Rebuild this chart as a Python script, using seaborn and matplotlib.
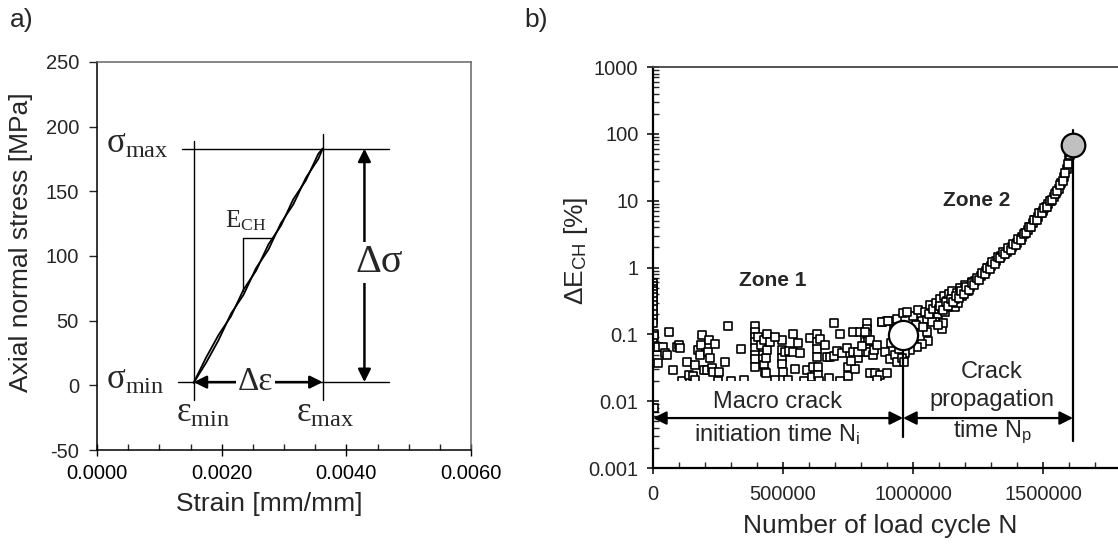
import numpy as np
import pandas as pd
import matplotlib
matplotlib.use("Agg")
import matplotlib.pyplot as plt
import seaborn as sns
from matplotlib.ticker import MultipleLocator, LogLocator, NullFormatter
from matplotlib.patches import Rectangle

# ---------------- data: panel a) ----------------
strain = [0.00155, 0.00175, 0.00195, 0.00215, 0.00235, 0.00255, 0.00275,
          0.00295, 0.00315, 0.00335, 0.00355, 0.00362]
stress_loading = [2, 21.5, 39, 53.5, 74, 88.5, 109, 123.4, 144, 158.4, 179, 183]
stress_unloading = [2, 17.5, 35, 55.5, 70, 90.5, 105, 125.4, 140, 160.4, 175, 183]
sigma_max = 183.0
sigma_min = 2.5
eps_min = 0.00155
eps_max = 0.00362
ech_eps = [0.00234, 0.00282]
ech_sig = [73.0, 114.0]
a_xticks = [0.0, 0.002, 0.004, 0.006]
a_xticklabels = ["0.0000", "0.0020", "0.0040", "0.0060"]
a_yticks = [-50, 0, 50, 100, 150, 200, 250]

# ---------------- data: panel b) ----------------
n_zone1 = [0, 0, 0, 0, 0, 0, 0, 0, 0, 0, 0, 0, 2000, 4000, 0, 3000, 3000,
           11500, 19000, 37000, 46000, 53000, 20500, 62000, 76000, 92000, 100000,
           104000, 110000, 129000, 138000, 154000, 162000, 174000, 180000, 187000,
           183000, 196000, 206000, 212000, 217000, 219000, 226000, 232000, 238000,
           255000, 277000, 290000, 300000, 350000, 392000, 392000, 392000, 392000,
           392000, 392000, 392000, 392000, 404000, 414000, 424000, 424000, 427000,
           428000, 430000, 433000, 436000, 440000, 440000, 448000, 470000, 495000,
           495000, 495000, 495000, 499000, 507000, 524000, 540000, 540000, 559000,
           565000, 580000, 591000, 604000, 612000, 616000, 629000, 629000, 629000,
           629000, 636000, 636000, 642000, 668000, 681000, 678000, 694000, 694000,
           706000, 719000, 726000, 745000, 751000, 751000, 770000, 770000, 777000,
           789000, 796000, 809000, 815000, 822000, 822000, 822000, 828000, 828000,
           834000, 847000, 853000, 873000, 879000, 892000, 898000, 901000, 911000,
           930000, 937000, 790000, 803000, 835000, 815000, 848000, 860000, 720000,
           640000, 520000, 250000, 160000, 860000, 545000, 470000, 340000, 760000,
           660000]
e_zone1 = [0.58, 0.53, 0.48, 0.44, 0.40, 0.36, 0.32, 0.28, 0.24, 0.20, 0.17, 0.15,
           0.10, 0.095, 0.075, 0.068, 0.008,
           0.065, 0.065, 0.065, 0.052, 0.050, 0.037, 0.110, 0.029, 0.064, 0.069,
           0.063, 0.020, 0.039, 0.025, 0.024, 0.035, 0.058, 0.050, 0.098,
           0.070, 0.029, 0.029, 0.055, 0.082, 0.044, 0.031, 0.027, 0.073,
           0.027, 0.038, 0.133, 0.020, 0.021, 0.133, 0.110, 0.092, 0.077,
           0.063, 0.050, 0.043, 0.032, 0.092, 0.069, 0.050, 0.043, 0.082,
           0.035, 0.027, 0.026, 0.044, 0.103, 0.058, 0.077, 0.021, 0.083,
           0.058, 0.044, 0.036, 0.027, 0.055, 0.057, 0.100, 0.055, 0.075,
           0.052, 0.020, 0.029, 0.088, 0.023, 0.033, 0.100, 0.077, 0.060,
           0.046, 0.033, 0.025, 0.085, 0.046, 0.046, 0.022, 0.150, 0.048,
           0.056, 0.100, 0.052, 0.063, 0.033, 0.024, 0.110, 0.055, 0.030,
           0.045, 0.110, 0.055, 0.088, 0.150, 0.120, 0.100, 0.080, 0.055,
           0.026, 0.050, 0.026, 0.025, 0.155, 0.055, 0.160, 0.026, 0.043,
           0.050, 0.038, 0.055, 0.068, 0.082, 0.110, 0.058, 0.070, 0.020,
           0.020, 0.021, 0.020, 0.021, 0.021, 0.030, 0.090, 0.060, 0.040,
           0.070]
n_transition = [879600, 905000, 937000, 1001000, 1033000, 1052000, 1084000, 1097000,
                1122000, 1135000, 1161000, 1174000, 1052000, 1059000, 1033000, 1014000,
                988000, 969000, 1110000, 1116000, 1071000, 960000, 975000, 985000,
                995000, 1010000, 1020000, 1040000, 1045000, 1060000, 1065000, 1075000,
                1090000, 1095000, 1105000, 1120000, 1130000, 1140000, 1150000, 1150000,
                1170000, 1180000, 1190000, 1200000, 1210000, 1225000, 940000, 950000,
                925000, 915000, 958000, 965000, 945000]
e_transition = [0.154, 0.16, 0.17, 0.19, 0.16, 0.17, 0.18, 0.20,
                0.22, 0.26, 0.26, 0.30, 0.11, 0.08, 0.073, 0.065,
                0.058, 0.052, 0.12, 0.146, 0.154, 0.21, 0.22, 0.12,
                0.10, 0.14, 0.23, 0.13, 0.22, 0.20, 0.28, 0.24,
                0.30, 0.14, 0.34, 0.38, 0.32, 0.40, 0.36, 0.45,
                0.42, 0.50, 0.38, 0.55, 0.44, 0.60, 0.09, 0.13,
                0.12, 0.075, 0.045, 0.038, 0.06]
n_band_a = [1100000, 1110000, 1120000, 1130000, 1140000, 1150000, 1160000, 1170000,
            1180000, 1190000, 1200000, 1210000, 1220000, 1230000, 1240000, 1250000,
            1260000, 1270000, 1280000, 1290000, 1300000, 1310000, 1320000, 1330000,
            1340000, 1350000, 1360000, 1370000, 1380000, 1390000, 1400000, 1410000,
            1420000, 1430000, 1440000, 1450000, 1460000, 1470000, 1480000, 1490000,
            1500000, 1510000, 1520000, 1530000, 1540000, 1550000, 1560000, 1570000,
            1580000, 1590000, 1600000]
e_band_a = [0.24, 0.25, 0.27, 0.28, 0.30, 0.32, 0.335, 0.36,
            0.39, 0.42, 0.45, 0.48, 0.52, 0.56, 0.62, 0.68,
            0.74, 0.81, 0.89, 0.98, 1.06, 1.16, 1.26, 1.38,
            1.50, 1.62, 1.74, 1.86, 2.0, 2.16, 2.32, 2.57,
            2.88, 3.24, 3.63, 4.07, 4.57, 5.13, 5.75, 6.46,
            7.08, 7.94, 8.9, 10.0, 11.5, 13.2, 15.1, 18.2,
            22.9, 30.2, 43.7]
n_band_b = [1105000, 1115000, 1125000, 1135000, 1145000, 1155000, 1165000, 1175000,
            1185000, 1195000, 1205000, 1215000, 1225000, 1235000, 1245000, 1255000,
            1265000, 1275000, 1285000, 1295000, 1305000, 1315000, 1325000, 1335000,
            1345000, 1355000, 1365000, 1375000, 1385000, 1395000, 1405000, 1415000,
            1425000, 1435000, 1445000, 1455000, 1465000, 1475000, 1485000, 1495000,
            1505000, 1515000, 1525000, 1535000, 1545000, 1555000, 1565000, 1575000,
            1585000, 1595000, 1603000, 1606000, 1608000]
e_band_b = [0.27, 0.23, 0.31, 0.27, 0.34, 0.31, 0.38, 0.35,
            0.44, 0.40, 0.51, 0.46, 0.58, 0.55, 0.69, 0.66,
            0.83, 0.80, 0.99, 0.96, 1.2, 1.15, 1.42, 1.38,
            1.7, 1.6, 1.95, 1.85, 2.25, 2.15, 2.65, 2.6,
            3.2, 3.25, 4.0, 4.1, 5.1, 5.2, 6.5, 6.6,
            7.9, 8.1, 9.9, 10.4, 12.8, 13.8, 17.0, 19.5,
            26.0, 36.0, 48.0, 55.0, 60.0]
n_initiation = 961500
e_initiation = 0.098
n_failure = 1615000
e_failure = 68.0
b_yticks = [0.001, 0.01, 0.1, 1, 10, 100, 1000]
b_yticklabels = ["0.001", "0.01", "0.1", "1", "10", "100", "1000"]
b_xticks = [0, 500000, 1000000, 1500000]
b_xticklabels = ["0", "500000", "1000000", "1500000"]

# ---------------- style ----------------
sns.set_style("ticks")
plt.rcParams['font.family'] = ['Liberation Sans', 'DejaVu Sans']
plt.rcParams['mathtext.fontset'] = 'custom'
plt.rcParams['mathtext.rm'] = 'Liberation Serif'
plt.rcParams['mathtext.sf'] = 'Liberation Sans'
plt.rcParams['mathtext.it'] = 'Liberation Serif:italic'

SERIF = ['Liberation Serif', 'DejaVu Serif']
TICK_FS = 14.5
LABEL_FS = 19

fig = plt.figure(figsize=(11.18, 5.5), dpi=100)
ax1 = fig.add_axes([0.0868, 0.1818, 0.3345, 0.7055])
ax2 = fig.add_axes([0.5841, 0.149, 0.4159, 0.729])

# ================= panel a =================
df_load = pd.DataFrame({"strain": strain, "stress": stress_loading})
df_unload = pd.DataFrame({"strain": strain, "stress": stress_unloading})
sns.lineplot(data=df_load, x="strain", y="stress", ax=ax1, color="black",
             lw=1.3, sort=False, estimator=None, zorder=3)
sns.lineplot(data=df_unload, x="strain", y="stress", ax=ax1, color="black",
             lw=1.3, sort=False, estimator=None, zorder=3)

ax1.set_xlim(0, 0.006)
ax1.set_ylim(-50, 250)
ax1.set_xticks(a_xticks)
ax1.set_xticklabels(a_xticklabels)
ax1.xaxis.set_minor_locator(MultipleLocator(0.0005))
ax1.set_yticks(a_yticks)
ax1.set_yticklabels([str(v) for v in a_yticks])
ax1.tick_params(axis='x', which='major', direction='inout', length=8, width=1,
                labelsize=TICK_FS, pad=6, colors='black')
ax1.tick_params(axis='x', which='minor', direction='in', length=4, width=1)
ax1.tick_params(axis='y', which='major', direction='out', length=6, width=1,
                labelsize=TICK_FS, pad=7)
for s in ['left', 'bottom']:
    ax1.spines[s].set_color('black')
    ax1.spines[s].set_linewidth(1.1)
for s in ['top', 'right']:
    ax1.spines[s].set_color('#666666')
    ax1.spines[s].set_linewidth(1.1)

ax1.set_xlabel("Strain [mm/mm]", fontsize=LABEL_FS)
ax1.set_ylabel("Axial normal stress [MPa]", fontsize=LABEL_FS)
ax1.xaxis.set_label_coords(0.461, -0.108)
ax1.xaxis.label.set_va('top')
ax1.yaxis.set_label_coords(-0.171, 0.536)

# reference lines
ax1.plot([0.00136, 0.00469], [sigma_max, sigma_max], color='black', lw=1.0, zorder=2)
ax1.plot([0.00130, 0.00469], [sigma_min, sigma_min], color='black', lw=1.0, zorder=2)
ax1.plot([eps_min, eps_min], [-11, 189], color='black', lw=1.0, zorder=2)
ax1.plot([eps_max, eps_max], [-11, 194], color='black', lw=1.0, zorder=2)
# E_CH triangle
ax1.plot([ech_eps[0], ech_eps[1]], [ech_sig[1], ech_sig[1]], color='black', lw=1.0, zorder=2)
ax1.plot([ech_eps[0], ech_eps[0]], [ech_sig[0], ech_sig[1]], color='black', lw=1.0, zorder=2)

arrow_kw = dict(arrowstyle='<|-|>', color='black', lw=1.8, mutation_scale=19,
                shrinkA=0, shrinkB=0)
ax1.annotate('', xy=(eps_max, sigma_min), xytext=(eps_min, sigma_min),
             arrowprops=arrow_kw, zorder=4)
ax1.annotate('', xy=(0.00429, sigma_max), xytext=(0.00429, sigma_min),
             arrowprops=arrow_kw, zorder=4)

ax1.text(0.00254, sigma_min, "Δε", family=SERIF, fontsize=24, ha='center',
         va='center', zorder=5, bbox=dict(fc='white', ec='none', pad=1.5))
ax1.text(0.00452, 95, "Δσ", family=SERIF, fontsize=29, ha='center',
         va='center', zorder=5, bbox=dict(fc='white', ec='none', pad=1.5))
ax1.text(0.00065, 186, r"σ$_{\mathrm{max}}$", family=SERIF, fontsize=25,
         ha='center', va='center')
ax1.text(0.00062, 4, r"σ$_{\mathrm{min}}$", family=SERIF, fontsize=25,
         ha='center', va='center')
ax1.text(0.0017, -22, r"ε$_{\mathrm{min}}$", family=SERIF, fontsize=25,
         ha='center', va='center')
ax1.text(0.00366, -22, r"ε$_{\mathrm{max}}$", family=SERIF, fontsize=25,
         ha='center', va='center')
ax1.text(0.00238, 127, r"E$_{\mathrm{CH}}$", family=SERIF, fontsize=18,
         ha='center', va='center')

# ================= panel b =================
df_b = pd.DataFrame({
    "N": n_zone1 + n_transition + n_band_a + n_band_b,
    "dE": e_zone1 + e_transition + e_band_a + e_band_b,
})
sns.scatterplot(data=df_b, x="N", y="dE", ax=ax2, marker='s', s=30,
                color='white', edgecolor='black', linewidth=1.2, zorder=2,
                legend=False)
ax2.set_yscale('log')
ax2.set_ylim(0.001, 1000)
ax2.set_xlim(0, 1788000)
ax2.set_yticks(b_yticks)
ax2.set_yticklabels(b_yticklabels)
ax2.yaxis.set_minor_locator(LogLocator(base=10, subs=np.arange(2, 10), numticks=20))
ax2.yaxis.set_minor_formatter(NullFormatter())
ax2.set_xticks(b_xticks)
ax2.set_xticklabels(b_xticklabels)
ax2.xaxis.set_minor_locator(MultipleLocator(100000))
ax2.tick_params(axis='both', which='major', direction='inout', length=9, width=1.3,
                labelsize=TICK_FS)
ax2.tick_params(axis='x', which='major', pad=8)
ax2.tick_params(axis='y', which='major', pad=6)
ax2.tick_params(axis='both', which='minor', direction='in', length=4, width=1.0)
ax2.spines['right'].set_visible(False)
ax2.spines['top'].set_color('#444444')
ax2.spines['top'].set_linewidth(1.3)
for s in ['left', 'bottom']:
    ax2.spines[s].set_color('black')
    ax2.spines[s].set_linewidth(1.6)

ax2.set_xlabel("Number of load cycle N", fontsize=LABEL_FS)
ax2.set_ylabel(r"ΔE$_{\mathsf{CH}}$ [%]", fontsize=LABEL_FS)
ax2.xaxis.set_label_coords(0.488, -0.115)
ax2.xaxis.label.set_va('top')
ax2.yaxis.set_label_coords(-0.1355, 0.541)

# white area masking the lowest points behind the annotation
ax2.add_patch(Rectangle((25000, 0.0015), 910000, 0.0185, facecolor='white',
                        edgecolor='none', zorder=3))

# vertical markers
ax2.plot([n_initiation, n_initiation], [0.0029, e_initiation], color='black', lw=1.6, zorder=4)
ax2.plot([n_failure, n_failure], [0.0025, 115], color='black', lw=1.6, zorder=4)
ax2.plot([n_initiation], [e_initiation], marker='o', ms=21, mfc='white', mec='black',
         mew=1.6, zorder=6, ls='none')
ax2.plot([n_failure], [e_failure], marker='o', ms=17, mfc='#c0c0c0', mec='black',
         mew=1.6, zorder=6, ls='none')

arrow_b = dict(arrowstyle='<|-|>', color='black', lw=1.6, mutation_scale=20,
               shrinkA=0, shrinkB=0)
ax2.annotate('', xy=(n_initiation, 0.0056), xytext=(0, 0.0056), arrowprops=arrow_b,
             zorder=5)
ax2.annotate('', xy=(n_failure, 0.0056), xytext=(n_initiation, 0.0056),
             arrowprops=arrow_b, zorder=5)

ax2.text(461500, 0.64, "Zone 1", fontsize=15, fontweight='bold', ha='center', va='center',
         zorder=5)
ax2.text(1246000, 10.2, "Zone 2", fontsize=15, fontweight='bold', ha='center', va='center',
         zorder=5)
ax2.text(477000, 0.0098, "Macro crack", fontsize=17, ha='center', va='center', zorder=5)
ax2.text(477000, 0.0031, r"initiation time N$_{\mathsf{i}}$", fontsize=17, ha='center',
         va='center', zorder=5)
ax2.text(1303800, 0.027, "Crack", fontsize=17, ha='center', va='center', zorder=5)
ax2.text(1303800, 0.0103, "propagation", fontsize=17, ha='center', va='center', zorder=5)
ax2.text(1303800, 0.0035, r"time N$_{\mathsf{p}}$", fontsize=17, ha='center',
         va='center', zorder=5)

# panel letters
fig.text(0.009, 0.985, "a)", fontsize=19, ha='left', va='top')
fig.text(0.469, 0.985, "b)", fontsize=19, ha='left', va='top')

fig.savefig("out.png", dpi=100)
